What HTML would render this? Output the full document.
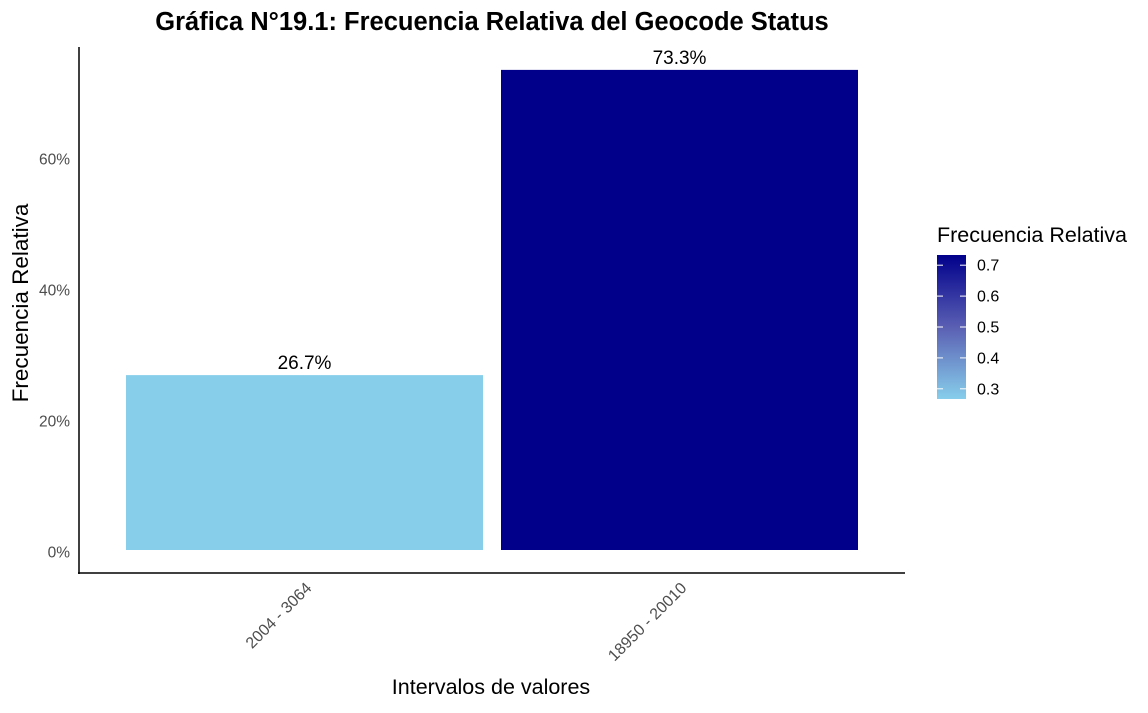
<!DOCTYPE html>
<html><head><meta charset="utf-8"><style>
body{margin:0;background:#fff;font-family:"Liberation Sans",sans-serif}
</style></head><body>
<svg width="1148" height="708" xmlns="http://www.w3.org/2000/svg" font-family="Liberation Sans, sans-serif" id="chart">
<defs><linearGradient id="grad" x1="0" y1="1" x2="0" y2="0">
<stop offset="0" stop-color="#87ceeb"/><stop offset="0.5" stop-color="#5a5fb3"/><stop offset="1" stop-color="#00008b"/></linearGradient></defs>
<text x="492" y="30" text-anchor="middle" font-size="25.5" font-weight="bold">Gráfica N°19.1: Frecuencia Relativa del Geocode Status</text>
<line x1="79" y1="47" x2="79" y2="574" stroke="#000" stroke-width="1.5"/>
<line x1="78" y1="573" x2="905" y2="573" stroke="#000" stroke-width="1.5"/>
<g id="yticks"></g><g id="bars"></g><g id="xticks"></g>
<text x="28" y="303" transform="rotate(-90 28 303)" text-anchor="middle" font-size="22.5">Frecuencia Relativa</text>
<text x="491" y="694" text-anchor="middle" font-size="21.5">Intervalos de valores</text>
<text x="937" y="242" font-size="21.5">Frecuencia Relativa</text>
<rect x="937" y="255" width="29" height="144" fill="url(#grad)"/>
<g id="legend"></g>
</svg>
<script>
const categories=["2004 - 3064","18950 - 20010"];
const values=[0.267,0.733];
const yTicks=[0,0.2,0.4,0.6];
const yTickLabels=["0%","20%","40%","60%"];
const legendTicks=[0.3,0.4,0.5,0.6,0.7];
const NS="http://www.w3.org/2000/svg";
function y(v){return 550-v*655;}
function xc(i){return 304.5+i*375;}
function ly(v){return 399-(v-0.267)/(0.733-0.267)*144;}
function col(v){const t=(v-0.267)/(0.733-0.267);const a=[135,206,235],b=[0,0,139];return `rgb(${a.map((c,k)=>Math.round(c+(b[k]-c)*t)).join(",")})`;}
function mk(tag,attrs,parent,text){const e=document.createElementNS(NS,tag);for(const k in attrs)e.setAttribute(k,attrs[k]);if(text!==undefined)e.textContent=text;document.getElementById(parent).appendChild(e);return e;}
yTicks.forEach((v,i)=>{
 const t=mk("text",{x:70,y:y(v)+7.5,"text-anchor":"end","font-size":15.5,fill:"#4d4d4d"},"yticks",yTickLabels[i]);
 
 
});
values.forEach((v,i)=>{
 const r=mk("rect",{x:xc(i)-178.5,y:y(v),width:357,height:y(0)-y(v),fill:col(v)},"bars");
 
 
 const l=mk("text",{x:xc(i),y:y(v)-6,"text-anchor":"middle","font-size":19},"bars",(v*100).toFixed(1)+"%");
 
 
 const tx=xc(i)+8,ty=589;
 const xl=mk("text",{x:tx,y:ty,"text-anchor":"end","font-size":16,fill:"#4d4d4d",transform:`rotate(-45 ${tx} ${ty})`},"xticks",categories[i]);
 
 
});
legendTicks.forEach(v=>{
 const yy=ly(v);
 const a=mk("line",{x1:937,x2:943,y1:yy,y2:yy,stroke:"#fff","stroke-width":1},"legend");
 
 
 const b=mk("line",{x1:960,x2:966,y1:yy,y2:yy,stroke:"#fff","stroke-width":1},"legend");
 
 
 const t=mk("text",{x:977,y:yy+5.5,"font-size":16},"legend",v.toFixed(1));
 
 
});
</script>
</body></html>
